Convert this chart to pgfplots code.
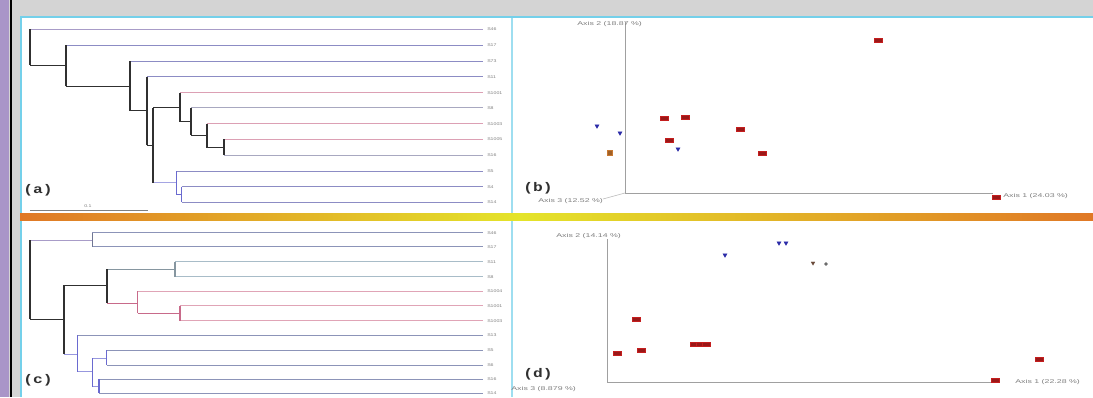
\documentclass[border=0pt]{standalone}
\usepackage{pgfplots}
\pgfplotsset{compat=1.18}
\usepackage{fontspec}
\setmainfont{Liberation Sans}
\setmonofont{Liberation Mono}
\definecolor{purp}{HTML}{A995C8}
\definecolor{bggray}{HTML}{D4D4D4}
\definecolor{cyanb}{HTML}{74D0EA}
\definecolor{orgb}{HTML}{E07826}
\definecolor{yelb}{HTML}{E4E42A}
\definecolor{ptred}{HTML}{C41E1E}
\definecolor{ptredd}{HTML}{9A1818}
\definecolor{ptblue}{HTML}{2C2CA8}
\definecolor{ptorg}{HTML}{C87830}
\definecolor{ptbrn}{HTML}{6A4A3A}
\definecolor{dk}{HTML}{303030}
\definecolor{lavl}{HTML}{A89CC8}
\definecolor{bl}{HTML}{8C8CC4}
\definecolor{pk}{HTML}{DCA0B4}
\definecolor{gb}{HTML}{A8A8C0}
\definecolor{bb}{HTML}{6A6AD0}
\definecolor{cb}{HTML}{8C94B8}
\definecolor{cl}{HTML}{A8BCC8}
\definecolor{cp}{HTML}{E0A4B6}
\definecolor{cpd}{HTML}{C86A8A}
\definecolor{axg}{HTML}{A0A0A0}
\newcommand\seg[5]{\addplot[#1] coordinates {(#2,#3) (#4,#5)};}
\tikzset{
  lf/.style={line width=0.9pt},
  vk/.style={line width=1.9pt, dk},
  hk/.style={line width=0.9pt, dk},
  lbl/.style={anchor=west, inner sep=0pt, font=\fontsize{4}{4}\selectfont, text=gray, xscale=1.3},
  axl/.style={anchor=west, inner sep=0pt, font=\fontsize{5.5}{5.5}\selectfont, text=gray, xscale=1.6},
  pl/.style={anchor=west, inner sep=0pt, font=\ttfamily\bfseries\fontsize{12.5}{12.5}\selectfont, text=dk, xscale=1.3},
}
\begin{document}
\begin{tikzpicture}
\clip (0,0) rectangle (1093pt,397pt);
\begin{axis}[at={(0,0)}, anchor=south west, scale only axis, width=1093pt, height=397pt,
  xmin=0, xmax=1093, ymin=0, ymax=397, y dir=reverse, hide axis, clip=false]
% background frame
\fill[bggray] (axis cs:0,0) rectangle (axis cs:1093,397);
\fill[purp] (axis cs:0,0) rectangle (axis cs:9,397);
\fill[black] (axis cs:10,0) rectangle (axis cs:12,397);
\fill[white] (axis cs:20,16) rectangle (axis cs:1093,397);
\fill[cyanb] (axis cs:20,16) rectangle (axis cs:1093,18);
\fill[cyanb] (axis cs:20,16) rectangle (axis cs:22,397);
\fill[cyanb!70] (axis cs:511,18) rectangle (axis cs:513,397);
\shade[left color=orgb, right color=yelb] (axis cs:20,213) rectangle (axis cs:520,220);
\shade[left color=yelb, right color=orgb] (axis cs:520,213) rectangle (axis cs:1093,220);

% ---------- (a) dendrogram ----------
\seg{lf,lavl}{30}{29.3}{483}{29.3}
\seg{lf,bl}{65.7}{45}{483}{45}
\seg{lf,bl}{130}{61}{483}{61}
\seg{lf,bl}{146.7}{76.7}{483}{76.7}
\seg{lf,pk}{180}{92.7}{483}{92.7}
\seg{lf,gb}{191}{107.7}{483}{107.7}
\seg{lf,pk}{206.7}{123.7}{483}{123.7}
\seg{lf,pk}{224.3}{139.3}{483}{139.3}
\seg{lf,gb}{224.3}{155}{483}{155}
\seg{lf,bl}{176.7}{171}{483}{171}
\seg{lf,bl}{181.7}{186.7}{483}{186.7}
\seg{lf,bl}{181.7}{202.3}{483}{202.3}
\seg{hk}{30}{65}{65.7}{65}
\seg{hk}{65.7}{86}{130}{86}
\seg{hk}{130}{110.7}{146.7}{110.7}
\seg{hk}{146.7}{145}{153.3}{145}
\seg{hk}{153.3}{107.7}{180}{107.7}
\seg{hk}{180}{121.7}{191}{121.7}
\seg{hk}{191}{135}{206.7}{135}
\seg{hk}{206.7}{147.7}{224.3}{147.7}
\seg{lf,bb!60}{153.3}{182.7}{176.7}{182.7}
\seg{lf,bb}{176.7}{194.5}{181.7}{194.5}
\seg{vk}{30}{29.3}{30}{65}
\seg{vk}{65.7}{45}{65.7}{86}
\seg{vk}{130}{61}{130}{110.7}
\seg{vk}{146.7}{76.7}{146.7}{145}
\seg{vk}{153.3}{107.7}{153.3}{182.7}
\seg{vk}{180}{92.7}{180}{121.7}
\seg{vk}{191}{107.7}{191}{135}
\seg{vk}{206.7}{123.7}{206.7}{147.7}
\seg{vk}{224.3}{139.3}{224.3}{155}
\seg{line width=1.4pt,bb}{176.7}{171}{176.7}{194.5}
\seg{line width=1.4pt,bb}{181.7}{186.7}{181.7}{202.3}
\seg{line width=0.8pt,gray}{30}{210}{148}{210}
\node[lbl] at (axis cs:84,206) {0.1};
\node[lbl] at (axis cs:487,29.3) {S46};
\node[lbl] at (axis cs:487,45) {S17};
\node[lbl] at (axis cs:487,61) {S73};
\node[lbl] at (axis cs:487,76.7) {S11};
\node[lbl] at (axis cs:487,92.7) {S1001};
\node[lbl] at (axis cs:487,107.7) {S8};
\node[lbl] at (axis cs:487,123.7) {S1003};
\node[lbl] at (axis cs:487,139.3) {S1005};
\node[lbl] at (axis cs:487,155) {S16};
\node[lbl] at (axis cs:487,171) {S5};
\node[lbl] at (axis cs:487,186.7) {S4};
\node[lbl] at (axis cs:487,202.3) {S14};
\node[pl] at (axis cs:23,190) {(a)};

% ---------- (c) dendrogram ----------
\seg{lf,cb}{92.3}{232.7}{482.7}{232.7}
\seg{lf,cb}{92.3}{246.7}{482.7}{246.7}
\seg{lf,cl}{175}{261.7}{482.7}{261.7}
\seg{lf,cl}{175}{276.7}{482.7}{276.7}
\seg{lf,cp}{137.7}{291}{482.7}{291}
\seg{lf,cp}{180}{305.7}{482.7}{305.7}
\seg{lf,cp}{180}{320.7}{482.7}{320.7}
\seg{lf,cb}{77.3}{335.3}{482.7}{335.3}
\seg{lf,cb}{106.7}{350}{482.7}{350}
\seg{lf,cb}{106.7}{365}{482.7}{365}
\seg{lf,cb}{99}{379.3}{482.7}{379.3}
\seg{lf,cb}{99}{393.3}{482.7}{393.3}
\seg{lf,lavl}{30}{240}{92.3}{240}
\seg{hk}{30}{319}{64}{319}
\seg{hk}{64}{285}{107.3}{285}
\seg{lf,cl!80!black}{107.3}{269.3}{175}{269.3}
\seg{lf,cpd}{107.3}{303.3}{137.7}{303.3}
\seg{lf,cpd}{137.7}{313.3}{180}{313.3}
\seg{lf,bb!70}{64}{354}{77.3}{354}
\seg{lf,bb!70}{77.3}{371.7}{92.3}{371.7}
\seg{lf,bb!70}{92.3}{358.3}{106.7}{358.3}
\seg{lf,bb!70}{92.3}{386.7}{99}{386.7}
\seg{vk}{30}{240}{30}{319}
\seg{line width=1.4pt,cb!80!black}{92.3}{232.7}{92.3}{246.7}
\seg{vk}{64}{285}{64}{354}
\seg{vk}{107.3}{269.3}{107.3}{303.3}
\seg{line width=1.3pt,cl!80!black}{175}{261.7}{175}{276.7}
\seg{line width=1.4pt,cpd}{137.7}{291}{137.7}{313.3}
\seg{line width=1.4pt,cpd}{180}{305.7}{180}{320.7}
\seg{line width=1.5pt,bb}{77.3}{335.3}{77.3}{371.7}
\seg{line width=1.5pt,bb}{92.3}{358.3}{92.3}{386.7}
\seg{line width=1.4pt,bb}{106.7}{350}{106.7}{365}
\seg{line width=1.4pt,bb}{99}{379.3}{99}{393.3}
\node[lbl] at (axis cs:487,232.7) {S46};
\node[lbl] at (axis cs:487,246.7) {S17};
\node[lbl] at (axis cs:487,261.7) {S11};
\node[lbl] at (axis cs:487,276.7) {S8};
\node[lbl] at (axis cs:487,291) {S1004};
\node[lbl] at (axis cs:487,305.7) {S1001};
\node[lbl] at (axis cs:487,320.7) {S1003};
\node[lbl] at (axis cs:487,335.3) {S13};
\node[lbl] at (axis cs:487,350) {S5};
\node[lbl] at (axis cs:487,365) {S6};
\node[lbl] at (axis cs:487,379.3) {S16};
\node[lbl] at (axis cs:487,393.3) {S14};
\node[pl] at (axis cs:23,380) {(c)};

% ---------- (b) PCA ----------
\seg{line width=0.9pt,axg}{625}{22}{625}{193}
\seg{line width=0.9pt,axg}{625}{193}{993}{193}
\seg{line width=0.6pt,axg!70}{625}{193}{603}{199}
\node[axl] at (axis cs:577,24) {Axis 2 (18.87 \%)};
\node[axl] at (axis cs:538,201) {Axis 3 (12.52 \%)};
\node[axl] at (axis cs:1003,196) {Axis 1 (24.03 \%)};
\node[pl] at (axis cs:523,188) {(b)};
\addplot[only marks, color=ptred, mark=square*, mark size=1.8pt, mark options={xscale=2.1, draw=ptred, fill=ptredd}]
  coordinates {(878,40) (664,118) (685,117) (740,129) (669,140) (762,153) (996,197)};
\addplot[only marks, color=ptblue, mark=triangle*, mark size=2.3pt, mark options={rotate=180, draw=ptblue, fill=ptblue}]
  coordinates {(597,126) (620,133) (678,149)};
\addplot[only marks, color=ptorg, mark=square*, mark size=2.4pt, mark options={draw=ptorg, fill=ptorg!80!black}]
  coordinates {(610,153)};

% ---------- (d) PCA ----------
\seg{line width=0.9pt,axg}{607}{239}{607}{382}
\seg{line width=0.9pt,axg}{607}{382}{995}{382}
\node[axl] at (axis cs:556,236) {Axis 2 (14.14 \%)};
\node[axl] at (axis cs:511,389) {Axis 3 (8.879 \%)};
\node[axl] at (axis cs:1015,382) {Axis 1 (22.28 \%)};
\node[pl] at (axis cs:523,374) {(d)};
\addplot[only marks, color=ptred, mark=square*, mark size=1.8pt, mark options={xscale=2.1, draw=ptred, fill=ptredd}]
  coordinates {(636,319) (617,353) (641,350) (694,344) (700,344) (706,344) (1039,359) (995,380)};
\addplot[only marks, color=ptblue, mark=triangle*, mark size=2.3pt, mark options={rotate=180, draw=ptblue, fill=ptblue}]
  coordinates {(725,255) (779,243) (786,243)};
\addplot[only marks, color=ptbrn, mark=triangle*, mark size=2.1pt, mark options={rotate=180, draw=ptbrn, fill=ptbrn}]
  coordinates {(813,263)};
\addplot[only marks, color=gray, mark=*, mark size=1.6pt, mark options={draw=gray, fill=gray!80!black}]
  coordinates {(826,264)};
\end{axis}
\end{tikzpicture}
\end{document}
